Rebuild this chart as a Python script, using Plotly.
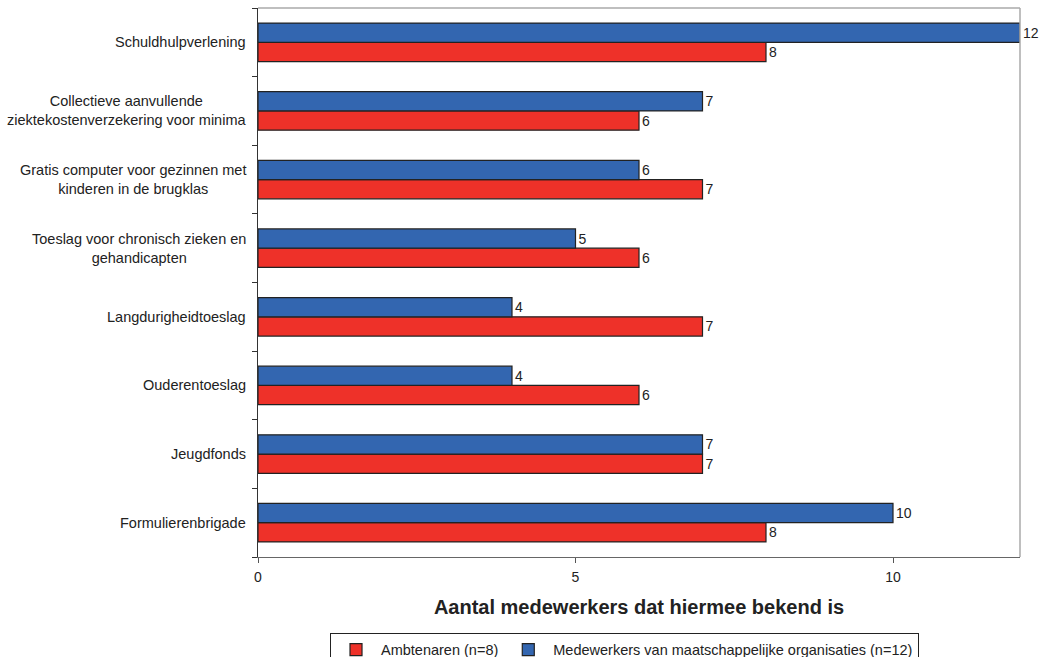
import plotly.graph_objects as go

# Categories listed bottom-to-top
categories = [
    "Formulierenbrigade",
    "Jeugdfonds",
    "Ouderentoeslag",
    "Langdurigheidtoeslag",
    "Toeslag voor chronisch zieken en<br>gehandicapten",
    "Gratis computer voor gezinnen met<br>kinderen in de brugklas",
    "Collectieve aanvullende<br>ziektekostenverzekering voor minima",
    "Schuldhulpverlening",
]
ambtenaren = [8, 7, 6, 7, 6, 7, 6, 8]
medewerkers = [10, 7, 4, 4, 5, 6, 7, 12]
series_names = ["Ambtenaren (n=8)", "Medewerkers van maatschappelijke organisaties (n=12)"]
x_ticks = [0, 5, 10]
x_title = "Aantal medewerkers dat hiermee bekend is"

RED = "#EE3129"
BLUE = "#3366B0"
FONT = "Liberation Sans, Arial, sans-serif"
FS = 14

fig = go.Figure()
for name, vals, col in [(series_names[0], ambtenaren, RED), (series_names[1], medewerkers, BLUE)]:
    fig.add_trace(go.Bar(
        y=categories, x=vals, orientation="h", name=name,
        marker=dict(color=col, line=dict(color="#222222", width=1.2)),
        text=[str(v) for v in vals], textposition="outside",
        textfont=dict(size=FS, color="#222222", family=FONT),
        cliponaxis=False, hoverinfo="skip",
    ))

# centered multi-line category labels
for cat in categories:
    fig.add_annotation(
        x=0, xref="paper", y=cat, yref="y", xanchor="right", yanchor="middle",
        xshift=-10, align="center", showarrow=False, text=cat,
        font=dict(size=14.5, color="#222222", family=FONT),
    )

fig.update_layout(
    width=1044, height=657,
    margin=dict(l=258, r=24, t=8, b=100, autoexpand=False),
    paper_bgcolor="white", plot_bgcolor="white",
    barmode="group", bargap=0.44, bargroupgap=0,
    font=dict(family=FONT, size=FS, color="#222222"),
    showlegend=True,
    legend=dict(
        orientation="h", x=0.0945, xanchor="left", y=-0.138, yanchor="top",
        bordercolor="#222222", borderwidth=1, bgcolor="white",
        font=dict(size=14.5, color="#222222"), traceorder="normal",
        itemwidth=40,
    ),
)
fig.update_xaxes(
    range=[0, 12], tickvals=x_ticks, ticks="outside", ticklen=5, tickcolor="#555555",
    showgrid=False, zeroline=False, showline=True, linecolor="#666666", linewidth=1,
    tickfont=dict(size=FS, color="#222222"), ticklabelstandoff=2, automargin=False,
    title=dict(text="<b>" + x_title + "</b>", font=dict(size=20, color="#222222"), standoff=16),
)
fig.update_yaxes(
    categoryorder="array", categoryarray=categories, showticklabels=False,
    ticks="outside", tickson="boundaries", ticklen=5, tickcolor="#333333",
    showgrid=False, showline=True, linecolor="#333333", linewidth=1, automargin=False,
)
# top and right border
fig.add_shape(type="line", xref="paper", yref="paper", x0=0, x1=1, y0=1, y1=1,
              line=dict(color="#AAAAAA", width=1.5))
fig.add_shape(type="line", xref="paper", yref="paper", x0=1, x1=1, y0=0, y1=1,
              line=dict(color="#AAAAAA", width=1.5))

fig.write_html("out.html", config={"displayModeBar": False},
               post_script="document.body.style.margin='0';document.body.style.overflow='hidden';")
